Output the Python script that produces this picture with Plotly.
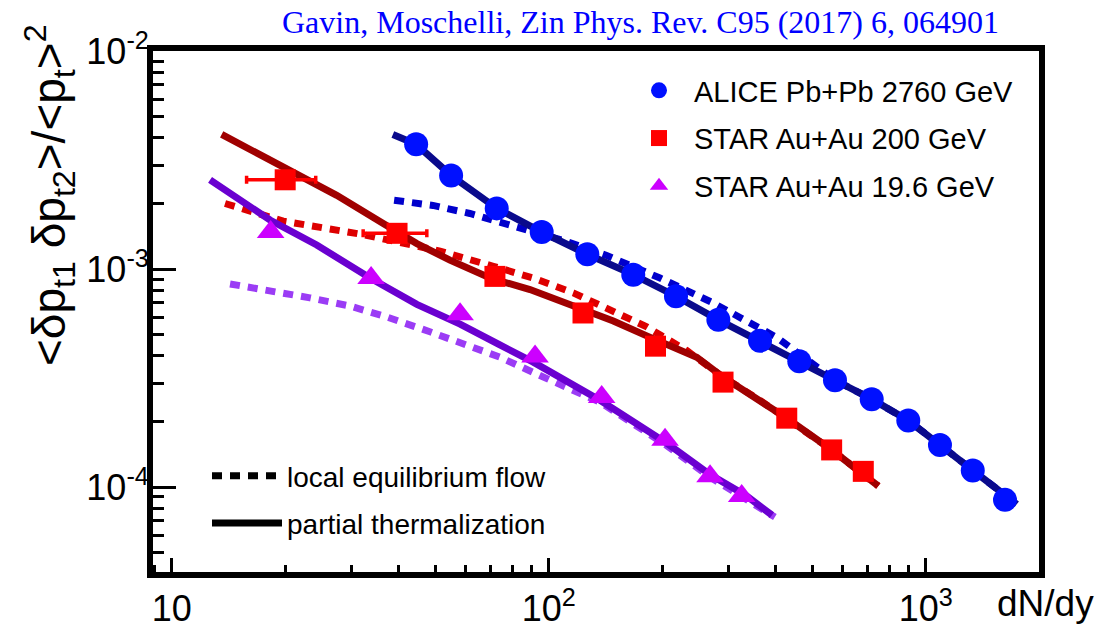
import plotly.graph_objects as go

# ---------------- data ----------------
alice_x = [44.5, 55.1, 72.8, 95.8, 126.6, 167.6, 217.6, 281.8, 363.5, 462, 574.6, 719, 899, 1091, 1333, 1623]
alice_y = [3.74e-3, 2.69e-3, 1.90e-3, 1.48e-3, 1.17e-3, 9.43e-4, 7.51e-4, 5.85e-4, 4.69e-4,
           3.78e-4, 3.09e-4, 2.53e-4, 2.02e-4, 1.56e-4, 1.19e-4, 8.73e-5]

star200_x = [20.0, 39.6, 72.0, 123.3, 192, 290, 428, 563, 683]
star200_y = [2.57e-3, 1.46e-3, 9.26e-4, 6.29e-4, 4.43e-4, 3.03e-4, 2.07e-4, 1.48e-4, 1.18e-4]
star200_xerr_plus = [4.1, 7.9, 0, 0, 0, 0, 0, 0, 0]
star200_xerr_minus = [4.2, 7.4, 0, 0, 0, 0, 0, 0, 0]

star19_x = [18.3, 33.8, 58.2, 92.0, 138.2, 203.5, 267.9, 325]
star19_y = [1.48e-3, 9.10e-4, 6.21e-4, 3.97e-4, 2.59e-4, 1.65e-4, 1.12e-4, 9.10e-5]

# model curves: partial thermalization (solid)
pt_alice_x = [38.6, 44.5, 55.1, 72.8, 95.8, 126.6, 167.6, 217.6, 281.8, 363.5, 462, 574.6, 719, 899, 1091, 1333, 1744]
pt_alice_y = [4.15e-3, 3.74e-3, 2.69e-3, 1.90e-3, 1.48e-3, 1.17e-3, 9.43e-4, 7.51e-4, 5.85e-4, 4.69e-4,
              3.78e-4, 3.09e-4, 2.53e-4, 2.02e-4, 1.56e-4, 1.19e-4, 8.34e-5]
pt_200_x = [13.57, 19.77, 27.4, 36.4, 44.7, 54.7, 69.9, 89.2, 111.6, 148.4, 182, 247, 290.5, 363.5, 427.9, 563, 748.6]
pt_200_y = [4.15e-3, 2.93e-3, 2.18e-3, 1.62e-3, 1.31e-3, 1.10e-3, 9.10e-4, 8.06e-4, 7.00e-4, 5.78e-4,
            4.94e-4, 3.94e-4, 3.19e-4, 2.50e-4, 2.07e-4, 1.48e-4, 1.01e-4]
pt_19_x = [12.64, 18.23, 24.25, 33.6, 44.7, 58.2, 74.0, 91.0, 136.8, 205.6, 267.9, 335, 391]
pt_19_y = [2.57e-3, 1.68e-3, 1.29e-3, 9.10e-4, 6.89e-4, 5.59e-4, 4.50e-4, 3.74e-4, 2.50e-4, 1.59e-4,
           1.14e-4, 9.10e-5, 7.43e-5]

# model curves: local equilibrium flow (dashed)
le_alice_x = [38.9, 49.3, 61.8, 78.9, 111.6, 142.5, 197.3, 272.8, 342, 402.5, 574.6, 719, 899, 1091, 1333, 1744]
le_alice_y = [2.07e-3, 1.96e-3, 1.80e-3, 1.60e-3, 1.34e-3, 1.154e-3, 9.10e-4, 7.00e-4, 5.68e-4, 4.86e-4,
              3.09e-4, 2.53e-4, 2.02e-4, 1.56e-4, 1.19e-4, 8.34e-5]
le_200_x = [13.85, 19.77, 32.2, 51.5, 71.3, 91.0, 116.2, 145.4, 182, 232.3, 290.5, 363.5, 427.9, 563, 748.6]
le_200_y = [2.00e-3, 1.66e-3, 1.44e-3, 1.21e-3, 1.03e-3, 9.10e-4, 7.78e-4, 6.54e-4, 5.43e-4, 4.23e-4,
            3.19e-4, 2.50e-4, 2.07e-4, 1.48e-4, 1.01e-4]
le_19_x = [14.28, 18.23, 23.27, 29.7, 37.2, 48.4, 60.6, 74.3, 94.8, 136.8, 205.6, 267.9, 398]
le_19_y = [8.55e-4, 7.97e-4, 7.38e-4, 6.77e-4, 6.03e-4, 5.16e-4, 4.45e-4, 3.94e-4, 3.25e-4, 2.45e-4,
           1.55e-4, 1.11e-4, 7.28e-5]

x_tickvals = [10, 100, 1000]
x_ticktext = ["10", "10<sup>2</sup>", "10<sup>3</sup>"]
y_tickvals = [1e-4, 1e-3, 1e-2]
y_ticktext = ["10<sup>-4</sup>", "10<sup>-3</sup>", "10<sup>-2</sup>"]

title_text = "Gavin, Moschelli, Zin Phys. Rev. C95 (2017) 6, 064901"
ytitle_text = "&lt;δp<sub>t1</sub> δp<sub>t2</sub>&gt;/&lt;p<sub>t</sub>&gt;<sup>2</sup>"
xtitle_text = "dN/dy"

# ---------------- styles ----------------
FONT = "Liberation Sans, Arial, sans-serif"
DASH = "10px,8px"
LW = 7

x_minor = [k * 10 ** e for e in range(0, 4) for k in range(2, 10)]
y_minor = [k * 10.0 ** e for e in range(-5, -1) for k in range(2, 10)]

fig = go.Figure()

# dashed curves (drawn first)
for xs, ys, col in [(le_alice_x, le_alice_y, "#0000cc"),
                    (le_200_x, le_200_y, "#dd0000"),
                    (le_19_x, le_19_y, "#9b3cf5")]:
    fig.add_trace(go.Scatter(x=xs, y=ys, mode="lines", showlegend=False, hoverinfo="skip",
                             line=dict(color=col, width=LW, dash=DASH)))

# solid curves
for xs, ys, col in [(pt_alice_x, pt_alice_y, "#0a0a8c"),
                    (pt_200_x, pt_200_y, "#a00000"),
                    (pt_19_x, pt_19_y, "#6a00d0")]:
    fig.add_trace(go.Scatter(x=xs, y=ys, mode="lines", showlegend=False, hoverinfo="skip",
                             line=dict(color=col, width=LW)))

# data points
fig.add_trace(go.Scatter(x=alice_x, y=alice_y, mode="markers", name="ALICE Pb+Pb 2760 GeV",
                         legendgroup="a",
                         marker=dict(symbol="circle", size=24, color="#0010ff", line=dict(width=0))))
fig.add_trace(go.Scatter(x=star200_x, y=star200_y, mode="markers", name="STAR Au+Au 200 GeV",
                         legendgroup="b",
                         error_x=dict(type="data", symmetric=False, array=star200_xerr_plus,
                                      arrayminus=star200_xerr_minus, color="#ff0000",
                                      thickness=3.5, width=4),
                         marker=dict(symbol="square", size=21, color="#ff0000", line=dict(width=0))))
fig.add_trace(go.Scatter(x=star19_x, y=star19_y, mode="markers", name="STAR Au+Au 19.6 GeV",
                         legendgroup="c",
                         marker=dict(symbol="triangle-up", size=24, color="#cc00ff", line=dict(width=0))))

# legend entries for the model line styles
fig.add_trace(go.Scatter(x=[None], y=[None], mode="lines", name="local equilibrium flow",
                         legend="legend2", legendgroup="le",
                         line=dict(color="black", width=LW, dash=DASH)))
fig.add_trace(go.Scatter(x=[None], y=[None], mode="lines", name="partial thermalization",
                         legend="legend2", legendgroup="pt",
                         line=dict(color="black", width=LW)))

W, H = 1109, 628
ML, MR, MT, MB = 153, 70, 51, 56
PW, PH = W - ML - MR, H - MT - MB


def px(xp):
    return (xp - ML) / PW


def py(yp):
    return (H - MB - yp) / PH


fig.update_layout(
    width=W, height=H,
    margin=dict(l=ML, r=MR, t=MT, b=MB, pad=0, autoexpand=False),
    paper_bgcolor="white", plot_bgcolor="white",
    font=dict(family=FONT, color="black"),
    legend=dict(x=px(624), y=py(65), xanchor="left", yanchor="top",
                font=dict(size=29, family=FONT), bgcolor="rgba(0,0,0,0)",
                tracegroupgap=7, itemwidth=60),
    legend2=dict(x=px(207), y=py(451), xanchor="left", yanchor="top",
                 font=dict(size=28, family=FONT), bgcolor="rgba(0,0,0,0)",
                 itemwidth=70, tracegroupgap=8),
    xaxis=dict(type="log", range=[0.9504, 3.3005], showline=True, linewidth=6, linecolor="black",
               mirror=True, ticks="inside", ticklen=14, tickwidth=3, tickcolor="black",
               tickmode="array", tickvals=x_tickvals, ticktext=x_ticktext, automargin=False,
               ticklabelstandoff=0,
               tickfont=dict(size=36, family=FONT), showgrid=False, zeroline=False,
               minor=dict(ticks="inside", ticklen=7, tickwidth=3, tickcolor="black",
                          tickmode="array", tickvals=x_minor, showgrid=False)),
    yaxis=dict(type="log", range=[-4.39, -1.999], showline=True, linewidth=6, linecolor="black",
               mirror=True, ticks="inside", ticklen=23, tickwidth=3, tickcolor="black",
               tickmode="array", tickvals=y_tickvals, ticktext=y_ticktext, automargin=False,
               ticklabelstandoff=-9,
               tickfont=dict(size=36, family=FONT), showgrid=False, zeroline=False,
               minor=dict(ticks="inside", ticklen=11, tickwidth=3, tickcolor="black",
                          tickmode="array", tickvals=y_minor, showgrid=False)),
    annotations=[
        dict(text=title_text, xref="paper", yref="paper", x=px(640), y=py(22),
             xanchor="center", yanchor="middle", showarrow=False,
             font=dict(family="Liberation Serif, Times New Roman, serif", size=32, color="#0000ff")),
        dict(text=xtitle_text, xref="paper", yref="paper", x=px(1096), y=py(603),
             xanchor="right", yanchor="middle", showarrow=False,
             font=dict(family=FONT, size=37, color="black")),
        dict(text=ytitle_text, xref="paper", yref="paper", x=px(49), y=py(195),
             xanchor="center", yanchor="middle", showarrow=False, textangle=-90,
             font=dict(family=FONT, size=46, color="black")),
    ],
)

fig.write_html("out.html", config={"displayModeBar": False},
               post_script="document.body.style.margin='0';document.body.style.overflow='hidden';")
